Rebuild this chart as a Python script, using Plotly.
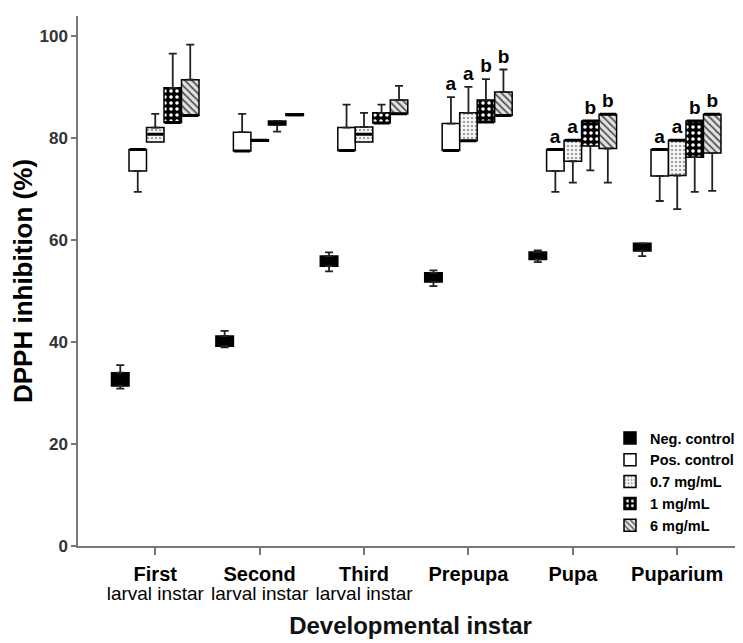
import plotly.graph_objects as go

# ---------------- data ----------------
categories = ["First", "Second", "Third", "Prepupa", "Pupa", "Puparium"]
subtitles = ["larval instar", "larval instar", "larval instar", "", "", ""]
series = ["Neg. control", "Pos. control", "0.7 mg/mL", "1 mg/mL", "6 mg/mL"]

# DPPH inhibition (%) box statistics per developmental instar
neg_min = [30.9, 39.0, 53.9, 51.0, 55.7, 56.9]
neg_q1 = [31.4, 39.2, 54.9, 51.8, 56.2, 57.9]
neg_med = [32.7, 40.2, 55.9, 52.7, 57.0, 58.6]
neg_q3 = [34.0, 41.2, 56.9, 53.6, 57.7, 59.4]
neg_max = [35.5, 42.2, 57.6, 54.1, 58.0, 59.4]

pos_min = [69.5, 77.5, 77.6, 77.6, 69.5, 67.7]
pos_q1 = [73.6, 77.5, 77.6, 77.6, 73.6, 72.6]
pos_med = [77.8, 77.5, 77.6, 77.6, 77.8, 77.8]
pos_q3 = [77.8, 81.2, 82.1, 82.9, 77.8, 77.8]
pos_max = [77.8, 84.8, 86.6, 88.1, 77.8, 77.8]

c07_min = [79.3, 79.4, 79.3, 79.5, 71.3, 66.1]
c07_q1 = [79.3, 79.4, 79.3, 79.5, 75.5, 72.7]
c07_med = [80.8, 79.6, 80.8, 79.5, 79.6, 79.6]
c07_q3 = [82.1, 79.7, 82.2, 85.0, 79.6, 79.6]
c07_max = [84.8, 79.7, 85.0, 90.1, 79.6, 79.6]

c1_min = [83.1, 81.3, 83.0, 83.2, 73.7, 69.5]
c1_q1 = [83.1, 82.6, 83.0, 83.2, 78.5, 76.3]
c1_med = [83.1, 83.0, 83.0, 83.2, 83.4, 83.4]
c1_q3 = [89.9, 83.4, 85.0, 87.5, 83.4, 83.4]
c1_max = [96.6, 83.4, 86.6, 91.6, 83.4, 83.4]

c6_min = [84.5, 84.5, 84.8, 84.5, 71.3, 69.7]
c6_q1 = [84.5, 84.5, 84.8, 84.5, 78.0, 77.1]
c6_med = [84.5, 84.6, 84.8, 84.5, 84.7, 84.7]
c6_q3 = [91.5, 84.8, 87.5, 89.1, 84.7, 84.7]
c6_max = [98.4, 84.8, 90.3, 93.5, 84.7, 84.7]

# significance letters
neg_letters = ["", "", "", "", "", ""]
pos_letters = ["", "", "", "a", "a", "a"]
c07_letters = ["", "", "", "a", "a", "a"]
c1_letters = ["", "", "", "b", "b", "b"]
c6_letters = ["", "", "", "b", "b", "b"]

y_ticks = [0, 20, 40, 60, 80, 100]

# ---------------- styles ----------------
FONT = "Arial, 'Liberation Sans', sans-serif"
styles = {
    "Neg. control": dict(color="black"),
    "Pos. control": dict(color="white"),
    "0.7 mg/mL": dict(color="white",
                      pattern=dict(shape=".", bgcolor="#f4f4f4", fgcolor="#8a8a8a",
                                   size=4, solidity=0.22, fillmode="replace")),
    "1 mg/mL": dict(color="black",
                    pattern=dict(shape=".", bgcolor="black", fgcolor="white",
                                 size=6, solidity=0.28, fillmode="replace")),
    "6 mg/mL": dict(color="#dddddd",
                    pattern=dict(shape="\\", bgcolor="#e4e4e4", fgcolor="#555555",
                                 size=5, solidity=0.35, fillmode="replace")),
}

stats = [
    ("Neg. control", neg_min, neg_q1, neg_med, neg_q3, neg_max, neg_letters),
    ("Pos. control", pos_min, pos_q1, pos_med, pos_q3, pos_max, pos_letters),
    ("0.7 mg/mL", c07_min, c07_q1, c07_med, c07_q3, c07_max, c07_letters),
    ("1 mg/mL", c1_min, c1_q1, c1_med, c1_q3, c1_max, c1_letters),
    ("6 mg/mL", c6_min, c6_q1, c6_med, c6_q3, c6_max, c6_letters),
]

WHISK = "#222222"
CLEAR = "rgba(0,0,0,0)"

fig = go.Figure()
for name, lo, q1, md, q3, hi, letters in stats:
    height = [t - b for t, b in zip(q3, q1)]
    upper = [h - t if h - t > 0.05 else None for h, t in zip(hi, q3)]
    lower_len = [b - l if b - l > 0.05 else None for b, l in zip(q1, lo)]
    # box body (q1..q3) with upper whisker
    m = dict(styles[name])
    m["line"] = dict(color="black", width=1.5)
    fig.add_trace(go.Bar(
        x=categories, y=height, base=q1, name=name, offsetgroup=name,
        marker=m, hoverinfo="skip",
        error_y=dict(type="data", symmetric=False, array=upper,
                     arrayminus=[0] * len(categories),
                     color=WHISK, thickness=1.8, width=4),
    ))
    # lower whisker carrier
    fig.add_trace(go.Bar(
        x=categories, y=lower_len, base=lo, offsetgroup=name, showlegend=False,
        marker=dict(color=CLEAR, line=dict(width=0)), hoverinfo="skip",
        error_y=dict(type="data", symmetric=False, array=[0] * len(categories),
                     arrayminus=lower_len, color=WHISK, thickness=1.8, width=4),
    ))
    # median line carrier
    fig.add_trace(go.Bar(
        x=categories, y=md, offsetgroup=name, showlegend=False,
        marker=dict(color=CLEAR, line=dict(width=0)), hoverinfo="skip",
        error_y=dict(type="data", symmetric=False, array=[0] * len(categories),
                     arrayminus=[0] * len(categories), color="black",
                     thickness=3, width=8),
    ))
    # letters above the top of each box/whisker
    if any(letters):
        fig.add_trace(go.Bar(
            x=categories, y=hi, offsetgroup=name, showlegend=False,
            marker=dict(color=CLEAR, line=dict(width=0)), hoverinfo="skip",
            text=letters, textposition="outside", cliponaxis=False,
            constraintext="none",
            textfont=dict(family=FONT, size=19, color="black", weight="bold"),
        ))

ticktext = [
    f"<span style='font-size:20px'><b>{c}</b></span>"
    + (f"<br><span style='font-size:19px'>{s}</span>" if s else "")
    for c, s in zip(categories, subtitles)
]

# the page body adds an 8px offset, so the figure is sized to the visible area
fig.update_layout(
    width=735, height=635,
    margin=dict(l=70, r=0, t=8, b=97),
    paper_bgcolor="white", plot_bgcolor="white",
    barmode="group", bargap=0.162, bargroupgap=0,
    font=dict(family=FONT, color="black"),
    showlegend=True,
    legend=dict(x=0.80, y=0.234, xanchor="left", yanchor="top",
                bgcolor="rgba(0,0,0,0)", traceorder="normal",
                font=dict(family=FONT, size=14.5, color="black", weight="bold"),
                itemwidth=30),
    xaxis=dict(
        type="category", categoryorder="array", categoryarray=categories,
        range=[-0.74, 5.63], automargin=False,
        tickmode="array", tickvals=categories, ticktext=ticktext,
        tickfont=dict(family=FONT, size=15, color="black"),
        ticklabelstandoff=8,
        showline=True, linecolor="#777777", linewidth=1.5,
        ticks="outside", ticklen=7, tickwidth=1.5, tickcolor="#777777",
        showgrid=False, zeroline=False,
        title=dict(text="<b>Developmental instar</b>",
                   font=dict(family=FONT, size=24, color="#111111"), standoff=14),
    ),
    yaxis=dict(
        range=[0, 104], tickmode="array", tickvals=y_ticks, automargin=False,
        tickfont=dict(family=FONT, size=17, color="#333333", weight="bold"),
        showline=True, linecolor="#777777", linewidth=1.5,
        ticks="outside", ticklen=5, tickwidth=1.5, tickcolor="#777777",
        showgrid=False, zeroline=False,
        title=dict(text="<b>DPPH inhibition (%)</b>",
                   font=dict(family=FONT, size=26, color="black"), standoff=0),
    ),
)

fig.write_html("out.html")
